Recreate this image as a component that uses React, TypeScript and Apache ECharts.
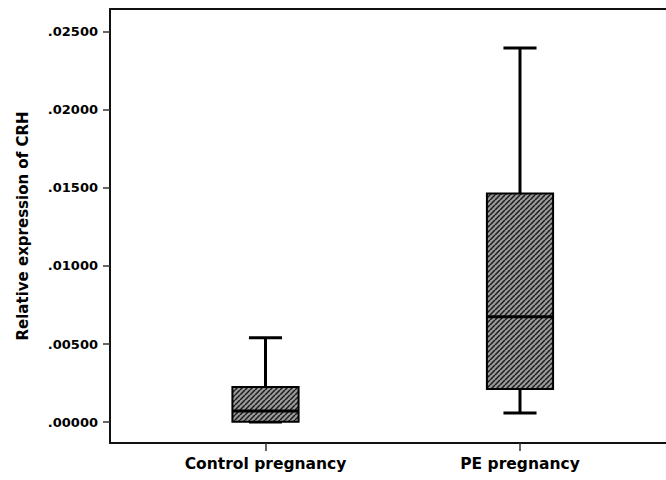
import React, { useEffect, useRef } from "react";
import * as echarts from "echarts";

const categories = ["Control pregnancy", "PE pregnancy"];
const lowerWhisker = [0.0, 0.00058];
const q1Values = [0.00002, 0.00212];
const medianValues = [0.0007, 0.00675];
const q3Values = [0.00225, 0.01465];
const upperWhisker = [0.0054, 0.02397];
const yTicks = [0, 0.005, 0.01, 0.015, 0.02, 0.025];
const yAxisTitle = "Relative expression of CRH";

function makeHatch(): HTMLCanvasElement {
  const s = 5;
  const c = document.createElement("canvas");
  c.width = s;
  c.height = s;
  const ctx = c.getContext("2d")!;
  ctx.fillStyle = "#9a9a9a";
  ctx.fillRect(0, 0, s, s);
  ctx.strokeStyle = "#1a1a1a";
  ctx.lineWidth = 1.5;
  for (const off of [-s, 0, s]) {
    ctx.beginPath();
    ctx.moveTo(off, s);
    ctx.lineTo(off + s, 0);
    ctx.stroke();
  }
  return c;
}

export default function App() {
  const ref = useRef<HTMLDivElement>(null);
  useEffect(() => {
    if (!ref.current) return;
    const chart = echarts.init(ref.current, undefined, { renderer: "svg" });
    const hatch = makeHatch();
    const data = categories.map((_, i) => [
      i,
      lowerWhisker[i],
      q1Values[i],
      medianValues[i],
      q3Values[i],
      upperWhisker[i],
    ]);
    const font = "DejaVu Sans";
    const frameLine = { show: true, onZero: false, lineStyle: { color: "#111", width: 2 } };
    const xMin = -0.611;
    const xMax = 1.5737;
    chart.setOption({
      animation: false,
      grid: {
        left: 110,
        top: 9,
        right: 0,
        bottom: 37,
        show: false,
        containLabel: false,
      },
      xAxis: [
        {
          type: "value",
          position: "bottom",
          min: xMin,
          max: xMax,
          splitLine: { show: false },
          axisLine: frameLine,
          axisTick: {
            show: true,
            customValues: [0, 1],
            length: 8,
            lineStyle: { color: "#333", width: 1.5 },
          },
          axisLabel: {
            customValues: [0, 1],
            formatter: (v: number) => categories[Math.round(v)] ?? "",
            margin: 13,
            color: "#000",
            fontFamily: font,
            fontWeight: "bold",
            fontSize: 15.5,
          },
        },
        {
          type: "value",
          position: "top",
          min: xMin,
          max: xMax,
          splitLine: { show: false },
          axisLine: frameLine,
          axisTick: { show: false },
          axisLabel: { show: false },
        },
      ],
      yAxis: {
        type: "value",
        position: "left",
        min: -0.001346,
        max: 0.026474,
        splitLine: { show: false },
        axisLine: frameLine,
        axisTick: {
          show: true,
          customValues: yTicks,
          length: 7,
          lineStyle: { color: "#333", width: 1.5 },
        },
        axisLabel: {
          customValues: yTicks,
          formatter: (v: number) => v.toFixed(5).replace(/^0/, ""),
          margin: 12,
          color: "#000",
          fontFamily: font,
          fontWeight: "bold",
          fontSize: 13,
        },
        name: yAxisTitle,
        nameLocation: "middle",
        nameGap: 80,
        nameTextStyle: {
          color: "#000",
          fontFamily: font,
          fontWeight: "bold",
          fontSize: 15,
        },
      },
      series: [
        {
          type: "custom",
          xAxisIndex: 0,
          data,
          encode: { x: 0, y: [1, 2, 3, 4, 5] },
          renderItem: (params: any, api: any) => {
            const x = api.value(0);
            const lo = api.coord([x, api.value(1)]);
            const q1 = api.coord([x, api.value(2)]);
            const med = api.coord([x, api.value(3)]);
            const q3 = api.coord([x, api.value(4)]);
            const hi = api.coord([x, api.value(5)]);
            const bw = api.size([0.26, 0])[0];
            const cx = lo[0];
            const cap = bw / 2;
            const lineStyle = { stroke: "#000", lineWidth: 3 };
            return {
              type: "group",
              children: [
                {
                  type: "line",
                  shape: { x1: cx, y1: q3[1], x2: cx, y2: hi[1] },
                  style: lineStyle,
                },
                {
                  type: "line",
                  shape: { x1: cx - cap / 2, y1: hi[1], x2: cx + cap / 2, y2: hi[1] },
                  style: lineStyle,
                },
                {
                  type: "line",
                  shape: { x1: cx, y1: q1[1], x2: cx, y2: lo[1] },
                  style: lineStyle,
                },
                {
                  type: "line",
                  shape: { x1: cx - cap / 2, y1: lo[1], x2: cx + cap / 2, y2: lo[1] },
                  style: lineStyle,
                },
                {
                  type: "rect",
                  shape: { x: cx - bw / 2, y: q3[1], width: bw, height: q1[1] - q3[1] },
                  style: {
                    fill: { image: hatch, repeat: "repeat" },
                    stroke: "#000",
                    lineWidth: 2,
                  },
                },
                {
                  type: "line",
                  shape: { x1: cx - bw / 2, y1: med[1], x2: cx + bw / 2, y2: med[1] },
                  style: lineStyle,
                },
              ],
            };
          },
        },
      ],
    });
    return () => chart.dispose();
  }, []);
  return <div ref={ref} style={{ width: 666, height: 480, position: "absolute", left: 0, top: 0 }} />;
}
